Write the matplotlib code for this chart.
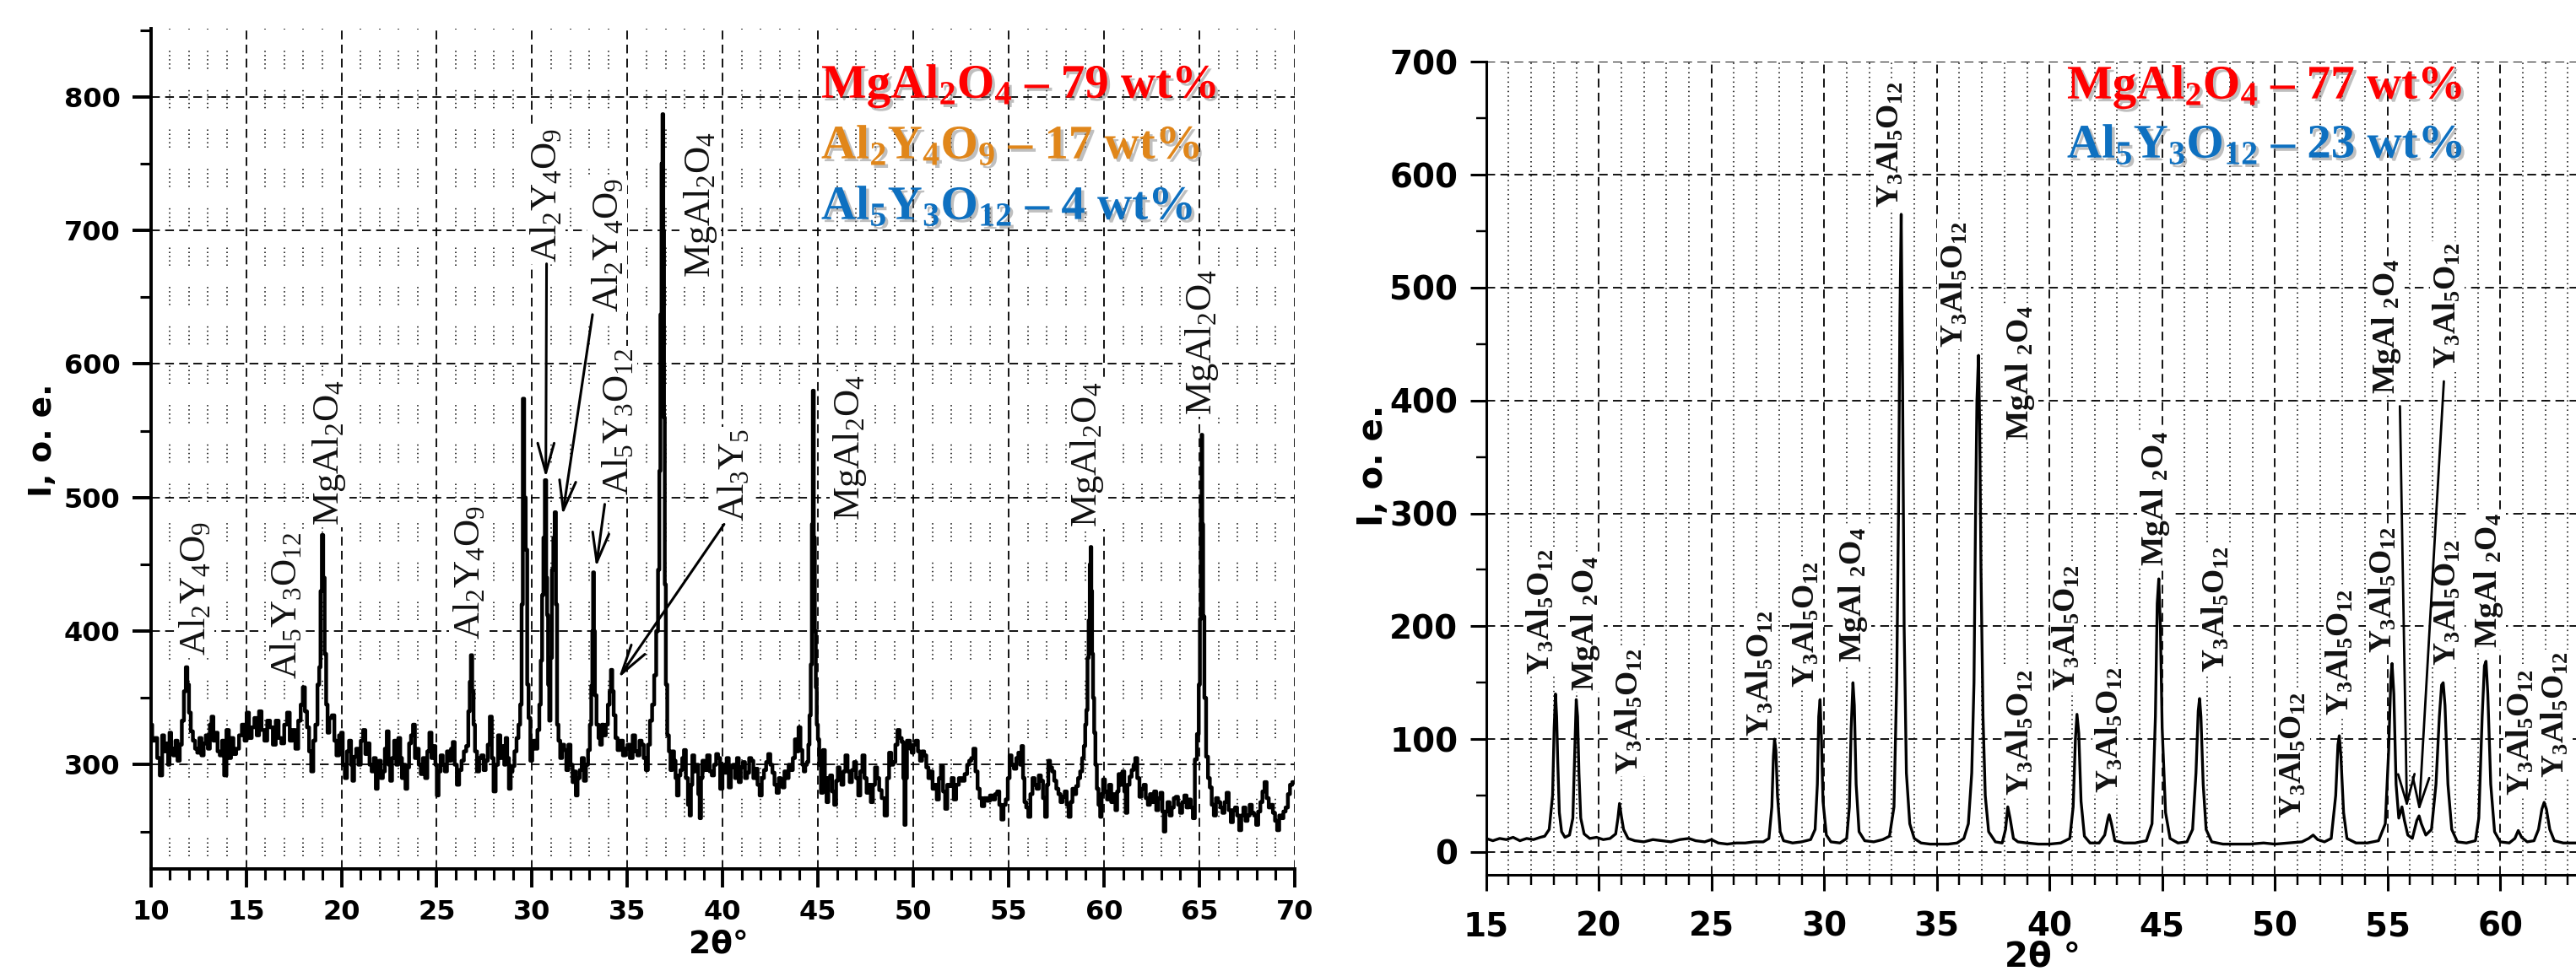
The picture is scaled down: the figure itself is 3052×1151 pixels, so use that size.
"""
plot.py — two XRD patterns: MgAl2O4 ceramics with yttrium aluminate phases.
"""

import matplotlib
matplotlib.use("Agg")
import matplotlib.pyplot as plt
import matplotlib.patheffects as pe
from matplotlib.ticker import MultipleLocator

plt.rcParams["font.family"] = "DejaVu Sans"
plt.rcParams["font.weight"] = "bold"
plt.rcParams["mathtext.fontset"] = "custom"
plt.rcParams["mathtext.rm"] = "Liberation Serif:weight=normal"
plt.rcParams["mathtext.bf"] = "Liberation Serif:weight=bold"
plt.rcParams["mathtext.it"] = "Liberation Serif:style=italic"
plt.rcParams["lines.scale_dashes"] = False

W, H = 3052, 1151

# ---- left pattern (2theta, intensity) ----
left_scan = [
    (10.0, 330), (10.15, 318), (10.28, 320), (10.4, 305), (10.55, 292), (10.65, 322), (10.75, 310),
    (10.87, 316), (10.95, 300), (11.02, 324), (11.12, 312), (11.24, 307), (11.35, 318), (11.46, 303),
    (11.58, 315), (11.68, 333), (11.8, 355), (11.88, 373), (11.96, 360), (12.05, 339), (12.15, 325),
    (12.27, 318), (12.38, 312), (12.5, 309), (12.6, 320), (12.72, 307), (12.83, 316), (12.94, 322),
    (13.05, 312), (13.15, 330), (13.23, 336), (13.34, 318), (13.45, 324), (13.56, 310), (13.68, 307),
    (13.8, 318), (13.9, 292), (14.04, 326), (14.15, 305), (14.27, 320), (14.4, 308), (14.56, 312),
    (14.7, 322), (14.86, 330), (14.98, 318), (15.08, 339), (15.22, 320), (15.37, 328), (15.5, 335),
    (15.62, 322), (15.74, 340), (15.88, 326), (16.04, 318), (16.18, 333), (16.33, 328), (16.48, 315),
    (16.63, 333), (16.78, 320), (16.92, 316), (17.08, 330), (17.22, 339), (17.36, 318), (17.51, 326),
    (17.66, 312), (17.81, 333), (17.92, 345), (18.03, 358), (18.14, 340), (18.25, 328), (18.36, 310),
    (18.47, 295), (18.58, 318), (18.69, 330), (18.8, 360), (18.87, 373), (18.94, 430), (19.01, 472),
    (19.08, 440), (19.16, 383), (19.24, 345), (19.31, 324), (19.42, 335), (19.58, 337), (19.68, 318),
    (19.8, 307), (19.95, 322), (20.02, 324), (20.12, 300), (20.24, 290), (20.34, 310), (20.46, 318),
    (20.55, 300), (20.61, 288), (20.72, 306), (20.83, 312), (20.95, 300), (21.08, 318), (21.2, 326),
    (21.31, 308), (21.42, 316), (21.53, 300), (21.64, 295), (21.75, 305), (21.86, 282), (21.94, 298),
    (22.01, 303), (22.12, 290), (22.23, 295), (22.33, 312), (22.43, 325), (22.52, 300), (22.6, 288),
    (22.71, 305), (22.82, 318), (22.93, 300), (23.04, 320), (23.13, 305), (23.22, 290), (23.31, 300),
    (23.41, 282), (23.5, 298), (23.6, 316), (23.7, 322), (23.81, 330), (23.9, 305), (24.0, 312),
    (24.11, 300), (24.22, 293), (24.33, 305), (24.45, 290), (24.56, 310), (24.67, 324), (24.78, 305),
    (24.89, 314), (24.97, 300), (25.04, 277), (25.15, 295), (25.26, 307), (25.37, 300), (25.48, 295),
    (25.59, 310), (25.7, 303), (25.8, 312), (25.88, 317), (26.0, 300), (26.11, 285), (26.24, 296),
    (26.36, 303), (26.48, 310), (26.61, 314), (26.7, 340), (26.76, 362), (26.82, 382), (26.9, 355),
    (26.96, 330), (27.05, 310), (27.17, 295), (27.28, 305), (27.4, 307), (27.51, 296), (27.62, 303),
    (27.73, 315), (27.84, 336), (27.93, 305), (28.03, 280), (28.15, 300), (28.28, 322), (28.39, 305),
    (28.5, 314), (28.58, 300), (28.65, 320), (28.74, 305), (28.83, 282), (28.93, 295), (29.02, 299),
    (29.13, 310), (29.24, 320), (29.33, 330), (29.42, 345), (29.48, 420), (29.55, 574), (29.62, 500),
    (29.71, 461), (29.78, 360), (29.85, 335), (29.97, 303), (30.05, 312), (30.12, 318), (30.22, 312),
    (30.34, 326), (30.42, 345), (30.49, 378), (30.56, 427), (30.63, 470), (30.71, 513), (30.77, 440),
    (30.81, 412), (30.87, 360), (30.93, 333), (31.0, 380), (31.08, 446), (31.15, 470), (31.22, 489),
    (31.28, 420), (31.34, 330), (31.43, 318), (31.52, 305), (31.63, 315), (31.74, 311), (31.85, 296),
    (31.96, 315), (32.07, 300), (32.18, 287), (32.26, 295), (32.33, 277), (32.44, 290), (32.55, 296),
    (32.66, 305), (32.77, 288), (32.88, 300), (32.99, 311), (33.07, 330), (33.14, 359), (33.18, 400),
    (33.22, 444), (33.27, 400), (33.32, 352), (33.44, 330), (33.53, 320), (33.61, 315), (33.71, 330),
    (33.81, 322), (33.92, 330), (34.03, 345), (34.1, 355), (34.17, 371), (34.24, 355), (34.32, 337),
    (34.43, 320), (34.54, 311), (34.69, 318), (34.84, 307), (34.95, 312), (35.06, 315), (35.2, 305),
    (35.35, 322), (35.46, 310), (35.58, 307), (35.69, 318), (35.8, 315), (35.91, 305), (36.02, 296),
    (36.13, 315), (36.24, 333), (36.35, 345), (36.46, 367), (36.56, 400), (36.65, 446), (36.7, 520),
    (36.76, 637), (36.82, 750), (36.86, 787), (36.9, 700), (36.94, 560), (36.98, 435), (37.05, 360),
    (37.13, 322), (37.22, 310), (37.3, 296), (37.4, 310), (37.49, 303), (37.56, 290), (37.64, 277),
    (37.73, 292), (37.83, 296), (37.92, 305), (38.01, 311), (38.12, 290), (38.23, 270), (38.3, 262),
    (38.36, 285), (38.45, 307), (38.56, 295), (38.67, 300), (38.76, 278), (38.82, 260), (38.9, 290),
    (38.97, 303), (39.1, 296), (39.26, 307), (39.37, 295), (39.48, 292), (39.6, 300), (39.71, 308),
    (39.8, 305), (39.93, 282), (40.04, 300), (40.15, 294), (40.26, 305), (40.37, 283), (40.48, 298),
    (40.59, 300), (40.7, 290), (40.79, 305), (40.89, 287), (41.0, 298), (41.11, 302), (41.22, 290),
    (41.33, 294), (41.44, 305), (41.55, 303), (41.66, 290), (41.77, 297), (41.88, 285), (41.99, 277),
    (42.1, 290), (42.22, 296), (42.33, 302), (42.44, 308), (42.55, 300), (42.66, 294), (42.77, 285),
    (42.88, 279), (43.0, 290), (43.09, 284), (43.18, 283), (43.29, 295), (43.4, 290), (43.51, 300),
    (43.62, 296), (43.73, 305), (43.84, 319), (43.93, 310), (44.02, 328), (44.13, 311), (44.22, 300),
    (44.28, 295), (44.37, 300), (44.46, 302), (44.52, 315), (44.58, 337), (44.65, 375), (44.7, 480),
    (44.75, 580), (44.8, 470), (44.86, 400), (44.9, 358), (44.96, 330), (45.02, 319), (45.1, 300),
    (45.2, 279), (45.31, 311), (45.4, 290), (45.49, 272), (45.58, 290), (45.68, 292), (45.79, 280),
    (45.9, 270), (45.99, 288), (46.08, 298), (46.18, 290), (46.27, 285), (46.38, 295), (46.49, 307),
    (46.6, 295), (46.72, 287), (46.83, 296), (46.94, 302), (47.05, 290), (47.16, 277), (47.27, 295),
    (47.38, 307), (47.49, 290), (47.6, 279), (47.71, 285), (47.82, 272), (47.93, 285), (48.04, 298),
    (48.15, 290), (48.26, 281), (48.41, 275), (48.56, 262), (48.67, 290), (48.78, 309), (48.89, 300),
    (49.0, 302), (49.11, 315), (49.22, 326), (49.33, 320), (49.44, 317), (49.5, 290), (49.56, 255),
    (49.62, 290), (49.7, 318), (49.78, 318), (49.87, 312), (49.95, 309), (50.06, 315), (50.18, 318),
    (50.29, 310), (50.4, 303), (50.51, 310), (50.62, 307), (50.73, 298), (50.84, 290), (50.95, 295),
    (51.06, 282), (51.17, 285), (51.28, 274), (51.39, 290), (51.5, 299), (51.61, 280), (51.72, 267),
    (51.83, 285), (51.95, 284), (52.06, 290), (52.17, 274), (52.31, 285), (52.46, 290), (52.61, 288),
    (52.76, 293), (52.87, 300), (52.98, 303), (53.09, 305), (53.2, 312), (53.31, 295), (53.42, 282),
    (53.53, 275), (53.64, 269), (53.79, 275), (53.94, 273), (54.09, 277), (54.23, 274), (54.34, 278),
    (54.45, 280), (54.56, 270), (54.67, 259), (54.78, 270), (54.9, 274), (55.0, 290), (55.09, 307),
    (55.2, 300), (55.34, 297), (55.45, 305), (55.56, 309), (55.63, 300), (55.71, 314), (55.79, 290),
    (55.86, 272), (55.97, 268), (56.08, 261), (56.19, 278), (56.3, 290), (56.41, 285), (56.52, 282),
    (56.63, 292), (56.74, 288), (56.85, 275), (56.96, 261), (57.04, 285), (57.11, 303), (57.22, 298),
    (57.33, 295), (57.44, 288), (57.55, 282), (57.66, 278), (57.77, 272), (57.88, 276), (57.99, 280),
    (58.09, 270), (58.19, 261), (58.29, 272), (58.39, 282), (58.49, 278), (58.58, 284), (58.69, 290),
    (58.8, 295), (58.9, 305), (58.98, 314), (59.04, 330), (59.1, 341), (59.16, 380), (59.22, 408),
    (59.28, 450), (59.31, 463), (59.35, 430), (59.39, 383), (59.45, 350), (59.51, 324), (59.58, 300),
    (59.66, 282), (59.75, 270), (59.84, 261), (59.9, 278), (59.99, 289), (60.1, 280), (60.21, 274),
    (60.32, 285), (60.43, 272), (60.54, 278), (60.65, 266), (60.72, 280), (60.8, 293), (60.9, 285),
    (61.02, 295), (61.1, 280), (61.17, 264), (61.28, 285), (61.39, 291), (61.5, 296), (61.59, 300),
    (61.68, 305), (61.8, 290), (61.91, 276), (62.02, 282), (62.13, 285), (62.24, 275), (62.35, 270),
    (62.46, 278), (62.57, 272), (62.68, 280), (62.79, 266), (62.9, 275), (63.01, 279), (63.1, 265),
    (63.16, 250), (63.27, 265), (63.38, 272), (63.49, 262), (63.6, 268), (63.71, 275), (63.82, 276),
    (63.93, 270), (64.04, 264), (64.15, 272), (64.27, 277), (64.38, 268), (64.49, 274), (64.6, 268),
    (64.71, 260), (64.81, 304), (64.93, 323), (65.0, 360), (65.05, 409), (65.1, 500), (65.13, 547),
    (65.17, 480), (65.22, 411), (65.3, 350), (65.4, 306), (65.5, 290), (65.59, 283), (65.7, 270),
    (65.81, 262), (65.92, 275), (66.04, 272), (66.15, 268), (66.26, 264), (66.37, 272), (66.48, 279),
    (66.59, 266), (66.7, 257), (66.81, 266), (66.92, 268), (67.03, 262), (67.14, 251), (67.25, 262),
    (67.36, 268), (67.47, 258), (67.58, 262), (67.69, 270), (67.81, 264), (67.92, 262), (68.03, 255),
    (68.14, 265), (68.25, 272), (68.36, 280), (68.47, 287), (68.58, 275), (68.69, 268), (68.8, 270),
    (68.91, 264), (69.02, 258), (69.13, 251), (69.24, 262), (69.35, 260), (69.46, 265), (69.58, 268),
    (69.7, 278), (69.8, 285), (69.94, 287),
]

# ---- right pattern ----
right_scan = [
    (15.0, 12), (15.3, 10), (15.6, 12), (15.9, 11), (16.2, 13), (16.5, 10), (16.8, 12), (17.1, 11),
    (17.4, 13), (17.6, 14), (17.8, 20), (17.95, 50), (18.02, 110), (18.08, 140), (18.13, 120),
    (18.18, 80), (18.25, 35), (18.35, 18), (18.5, 13), (18.7, 15), (18.85, 30), (18.95, 100),
    (19.0, 135), (19.06, 120), (19.12, 70), (19.2, 30), (19.35, 16), (19.6, 12), (19.9, 13),
    (20.2, 11), (20.5, 12), (20.75, 16), (20.85, 30), (20.92, 43), (21.0, 32), (21.1, 20), (21.3, 12),
    (21.6, 10), (22.0, 9), (22.4, 11), (22.8, 10), (23.2, 9), (23.6, 11), (24.0, 12), (24.3, 10),
    (24.7, 9), (25.0, 11), (25.3, 8), (25.7, 7), (26.1, 8), (26.5, 8), (26.9, 9), (27.3, 9),
    (27.55, 12), (27.68, 40), (27.75, 85), (27.8, 100), (27.86, 90), (27.93, 50), (28.05, 18),
    (28.2, 10), (28.6, 8), (29.0, 9), (29.4, 11), (29.6, 20), (29.7, 60), (29.76, 120), (29.82, 135),
    (29.88, 100), (29.95, 45), (30.1, 15), (30.3, 9), (30.7, 8), (31.0, 12), (31.12, 40), (31.2, 110),
    (31.28, 150), (31.34, 130), (31.42, 60), (31.55, 18), (31.8, 10), (32.2, 9), (32.6, 11),
    (32.9, 14), (33.1, 40), (33.22, 150), (33.3, 300), (33.36, 470), (33.42, 565), (33.48, 420),
    (33.55, 200), (33.65, 70), (33.8, 25), (34.0, 12), (34.3, 8), (34.7, 7), (35.1, 7), (35.5, 7),
    (35.9, 8), (36.2, 12), (36.4, 25), (36.55, 70), (36.65, 150), (36.72, 300), (36.78, 400),
    (36.85, 440), (36.9, 380), (36.96, 250), (37.05, 120), (37.15, 50), (37.3, 18), (37.6, 9),
    (37.9, 8), (38.05, 20), (38.15, 40), (38.25, 30), (38.4, 12), (38.6, 9), (39.0, 8), (39.5, 7),
    (40.0, 7), (40.5, 8), (40.9, 12), (41.05, 40), (41.15, 100), (41.22, 122), (41.3, 105),
    (41.4, 45), (41.55, 14), (41.8, 8), (42.2, 8), (42.45, 15), (42.6, 30), (42.65, 33), (42.75, 25),
    (42.9, 10), (43.3, 8), (43.8, 8), (44.3, 10), (44.55, 25), (44.7, 120), (44.78, 220),
    (44.85, 242), (44.92, 200), (45.0, 110), (45.15, 35), (45.35, 12), (45.7, 8), (46.1, 9),
    (46.35, 20), (46.5, 70), (46.6, 125), (46.66, 136), (46.72, 120), (46.82, 60), (46.95, 20),
    (47.2, 9), (47.7, 7), (48.3, 7), (48.9, 7), (49.5, 8), (50.0, 7), (50.6, 8), (51.2, 9), (51.5, 12),
    (51.7, 15), (51.9, 11), (52.2, 9), (52.5, 12), (52.7, 50), (52.8, 95), (52.86, 103), (52.93, 85),
    (53.05, 35), (53.2, 12), (53.6, 8), (54.1, 8), (54.6, 10), (54.9, 25), (55.05, 90), (55.15, 155),
    (55.2, 167), (55.28, 140), (55.38, 60), (55.5, 30), (55.64, 40), (55.75, 28), (55.9, 15),
    (56.1, 12), (56.3, 28), (56.4, 32), (56.5, 25), (56.7, 15), (56.95, 20), (57.15, 60), (57.3, 120),
    (57.4, 148), (57.47, 150), (57.55, 130), (57.68, 60), (57.85, 20), (58.1, 9), (58.5, 8),
    (58.9, 10), (59.05, 30), (59.2, 120), (59.3, 165), (59.37, 169), (59.45, 140), (59.58, 60),
    (59.75, 18), (60.0, 9), (60.4, 8), (60.65, 12), (60.8, 19), (60.95, 13), (61.2, 9), (61.5, 10),
    (61.7, 20), (61.85, 38), (61.95, 44), (62.05, 38), (62.2, 20), (62.4, 10), (62.8, 8), (63.2, 8),
    (63.6, 8), (64.0, 8), (65.0, 8),
]

# phase labels: (text, 2theta, intensity at bottom of label)
AYO9 = r"$\mathrm{Al_2Y_4O_9}$"
AYO12 = r"$\mathrm{Al_5Y_3O_{12}}$"
MAO = r"$\mathrm{MgAl_2O_4}$"
left_labels = [
    (AYO9, 12.3, 382), (AYO12, 17.07, 364), (MAO, 19.37, 479), (AYO9, 26.7, 394),
    (AYO9, 30.72, 676), (AYO9, 33.95, 639), (AYO12, 34.47, 502), (MAO, 38.82, 665),
    (r"$\mathrm{Al_3Y_5}$", 40.55, 482), (MAO, 46.66, 483), (MAO, 59.13, 478), (MAO, 65.13, 562),
]
left_arrows = [  # (from x, from y, to x, to y)
    (30.76, 675, 30.72, 515), (33.17, 637, 31.6, 487),
    (33.81, 495, 33.36, 448), (40.07, 480, 34.54, 365),
]

YAG = r"$\mathbf{Y_3Al_5O_{12}}$"
SPN = r"$\mathbf{MgAl\ {}_2O_4}$"
right_labels = [
    (YAG, 17.43, 157), (SPN, 19.43, 143), (YAG, 21.34, 69), (YAG, 27.17, 102), (YAG, 29.2, 146),
    (SPN, 31.28, 168), (YAG, 32.94, 571), (YAG, 35.76, 447), (SPN, 38.7, 365), (YAG, 38.7, 50),
    (YAG, 40.77, 143), (YAG, 42.65, 52), (SPN, 44.7, 253), (YAG, 47.4, 159), (YAG, 50.8, 30),
    (YAG, 52.9, 121), (YAG, 54.8, 176), (SPN, 54.96, 406), (YAG, 57.65, 428), (YAG, 57.65, 165),
    (SPN, 59.47, 181), (YAG, 60.9, 50), (YAG, 62.46, 66),
]
right_arrows = [(55.55, 395, 55.86, 39), (57.5, 417, 56.4, 36)]

# phase content (wt%)
left_phases = [r"$\mathbf{MgAl_2O_4}$", r"$\mathbf{Al_2Y_4O_9}$", r"$\mathbf{Al_5Y_3O_{12}}$"]
left_wt = [79, 17, 4]
left_colors = ["#FF0000", "#E0861A", "#0E70C0"]
right_phases = [r"$\mathbf{MgAl_2O_4}$", r"$\mathbf{Al_5Y_3O_{12}}$"]
right_wt = [77, 23]
right_colors = ["#FF0000", "#0E70C0"]


def px_axes(fig, left, top, right, bottom):
    return fig.add_axes([left / W, 1 - bottom / H, (right - left) / W, (bottom - top) / H])


def style_axes(ax, tick_size, spine_w, major_len, minor_len, pad_x, pad_y, minor_dash):
    for s in ("top", "right"):
        ax.spines[s].set_visible(False)
    for s in ("left", "bottom"):
        ax.spines[s].set_linewidth(spine_w)
    ax.xaxis.set_minor_locator(MultipleLocator(1))
    ax.yaxis.set_major_locator(MultipleLocator(100))
    ax.yaxis.set_minor_locator(MultipleLocator(50))
    ax.tick_params(which="major", direction="out", length=major_len, width=spine_w,
                   labelsize=tick_size)
    ax.tick_params(which="minor", direction="out", length=minor_len, width=spine_w * 0.8)
    ax.tick_params(axis="x", which="major", pad=pad_x)
    ax.tick_params(axis="y", which="major", pad=pad_y)
    ax.grid(which="major", color="black", linestyle=(0, (7.5, 4.5)), linewidth=1.3)
    ax.grid(which="minor", axis="x", color="black", linestyle=minor_dash, linewidth=1.1)
    ax.set_axisbelow(True)


def add_labels(ax, labels, size, weight):
    for text, x, y in labels:
        ax.text(x, y, text, rotation=90, ha="center", va="bottom", fontsize=size,
                color="#111111", fontweight=weight, zorder=3,
                bbox=dict(boxstyle="square,pad=0.05", fc="white", ec="none"))


def add_arrows(ax, arrows, lw):
    for x0, y0, x1, y1 in arrows:
        ax.annotate("", xy=(x1, y1), xytext=(x0, y0), zorder=5,
                    arrowprops=dict(arrowstyle="->,head_length=0.9,head_width=0.25",
                                    lw=lw, color="black", shrinkA=0, shrinkB=0,
                                    mutation_scale=28))


def add_phase_text(fig, x, y0, step, phases, wt, colors):
    shadow = [pe.withSimplePatchShadow(offset=(2.5, -2.5), shadow_rgbFace="0.45", alpha=0.45)]
    for i, (ph, w, c) in enumerate(zip(phases, wt, colors)):
        fig.text(x / W, 1 - (y0 + i * step) / H, f"{ph} – {w} wt%", color=c,
                 fontsize=41, fontfamily="Liberation Serif", fontweight="bold",
                 ha="left", va="baseline", path_effects=shadow)


fig = plt.figure(figsize=(W / 100, H / 100), dpi=100)

# ---------------- left panel ----------------
ax1 = px_axes(fig, 178.6, 34, 1534, 1030)
x1, y1 = zip(*left_scan)
ax1.plot(x1, y1, color="black", lw=3.2, drawstyle="steps-mid", zorder=4)
ax1.set_xlim(10, 70)
ax1.set_ylim(222, 851)
ax1.set_xticks(range(10, 71, 5))
style_axes(ax1, 23, 2.8, 16, 9.5, 10, 10,
           (22.8, (1.1, 2.5, 1.1, 2.5, 1.1, 2.5, 1.1, 2.5, 1.1, 18.1)))
add_labels(ax1, left_labels, 32, "normal")
add_arrows(ax1, left_arrows, 2.2)

fig.text(51 / W, 1 - 522 / H, "I, o. e.", rotation=90, ha="center", va="center", fontsize=27)
fig.text(851 / W, 1 - 1120 / H, "2θ°", ha="center", va="center", fontsize=27)
add_phase_text(fig, 973, 116, 72, left_phases, left_wt, left_colors)

# ---------------- right panel ----------------
ax2 = px_axes(fig, 1760.7, 73.4, 1760.7 + 50 * 26.7, 1036.7)
x2, y2 = zip(*right_scan)
ax2.plot(x2, y2, color="black", lw=2.4, zorder=4)
ax2.set_xlim(15, 65)
ax2.set_ylim(-20, 700)
ax2.set_xticks(range(15, 61, 5))
style_axes(ax2, 28, 2.2, 14, 8.5, 17, 10, (0, (1.1, 2.9)))
add_labels(ax2, right_labels, 27, "bold")
add_arrows(ax2, right_arrows, 2.0)

fig.text(1627 / W, 1 - 552 / H, "I, o. e.", rotation=90, ha="center", va="center", fontsize=29)
fig.text(2420 / W, 1 - 1135 / H, "2θ °", ha="center", va="center", fontsize=29)
add_phase_text(fig, 2449, 117, 70, right_phases, right_wt, right_colors)

fig.savefig("out.png", dpi=100)
plt.close(fig)
